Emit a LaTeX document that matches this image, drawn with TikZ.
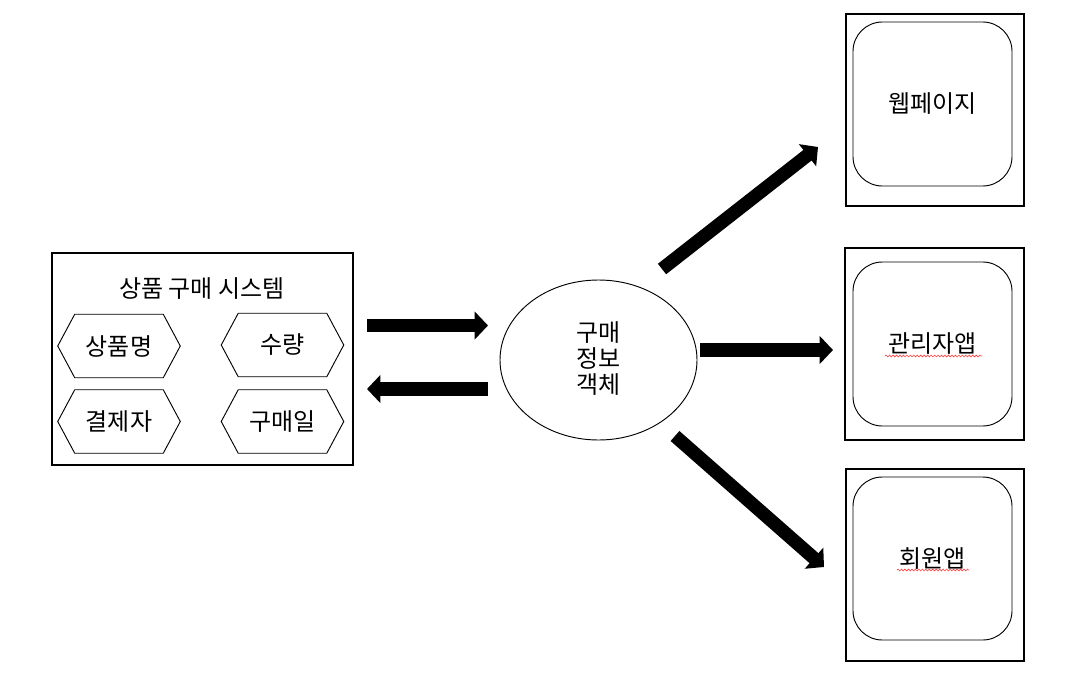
\documentclass[tikz,border=0pt]{standalone}
\usepackage{fontspec}
\setmainfont{Noto Sans CJK KR}
\usetikzlibrary{arrows.meta,calc,decorations.pathmorphing}
\begin{document}
\begin{tikzpicture}[x=0.75pt,y=-0.75pt,
  every node/.style={font=\fontsize{18pt}{19.5pt}\selectfont, inner sep=0pt},
  frame/.style={draw, line width=1pt, fill=white},
  hexbox/.style={minimum width=91.5pt, minimum height=47.25pt},
  roundbox/.style={draw, line width=0.7pt, rounded corners=22pt},
  thickarrow/.style={line width=10pt, -{Triangle[length=10pt,width=20.5pt]}},
  spell/.style={draw=red!75, line width=0.45pt, decorate, decoration={snake, amplitude=0.7pt, segment length=2.6pt}}
]
\useasboundingbox (0,0) rectangle (1088,678);
\fill[white] (0,0) rectangle (1088,678);

% left system box
\node[frame, minimum width=225.75pt, minimum height=159pt] (sys) at (202.5,359) {};
\node (title) at (202,289) {상품 구매 시스템};

\node[hexbox] (h1) at (119,346) {상품명};
\node[hexbox] (h2) at (282.5,345) {수량};
\node[hexbox] (h3) at (119,421.5) {결제자};
\node[hexbox] (h4) at (282.5,421.5) {구매일};
\foreach \h in {h1,h2,h3,h4}{
  \draw[line width=0.7pt] ($(\h.north west)+(17,0)$) -- ($(\h.north east)+(-17,0)$) -- (\h.east)
     -- ($(\h.south east)+(-17,0)$) -- ($(\h.south west)+(17,0)$) -- (\h.west) -- cycle;
}

% ellipse
\draw[line width=0.7pt] (598.5,360) ellipse [x radius=98.5, y radius=80];
\node[align=center] (obj) at (598.5,359) {구매\\정보\\객체};

% right boxes
\node[frame, minimum width=133.5pt, minimum height=144pt] (o1) at (935,110) {};
\node[roundbox, minimum width=119.25pt, minimum height=123pt] (web) at (932.5,104) {웹페이지};
\node[frame, minimum width=134.25pt, minimum height=144pt] (o2) at (934.5,344) {};
\node[roundbox, minimum width=119.25pt, minimum height=123pt] (admin) at (932.5,344) {관리자앱};
\node[frame, minimum width=133.5pt, minimum height=144pt] (o3) at (935,565) {};
\node[roundbox, minimum width=119.25pt, minimum height=122.25pt] (member) at (932.5,558.5) {회원앱};

% spell-check underlines
\draw[spell] (885,356) -- (982,356);
\draw[spell] (897,570) -- (969,570);

% arrows
\coordinate (a1s) at (367,325.5);
\coordinate (a1e) at (488,325.5);
\coordinate (a2s) at (488,389);
\coordinate (a2e) at (367,389);
\coordinate (a3s) at (662,269);
\coordinate (a3e) at (818,147);
\coordinate (a4s) at (700,350);
\coordinate (a4e) at (833,350);
\coordinate (a5s) at (675,436);
\coordinate (a5e) at (824,567);
\draw[thickarrow] (a1s) -- (a1e);
\draw[thickarrow] (a2s) -- (a2e);
\draw[thickarrow] (a3s) -- (a3e);
\draw[thickarrow] (a4s) -- (a4e);
\draw[thickarrow] (a5s) -- (a5e);
\end{tikzpicture}
\end{document}
